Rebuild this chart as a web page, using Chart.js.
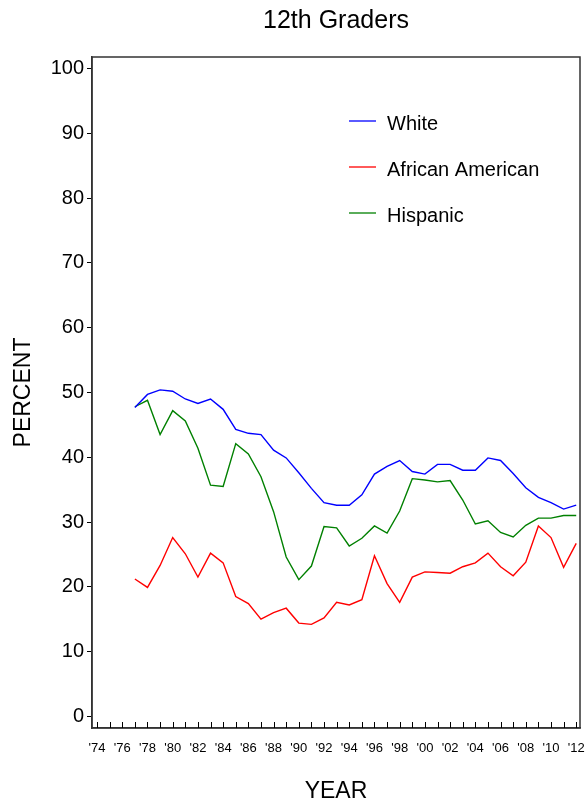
<!DOCTYPE html>
<html>
<head>
<meta charset="utf-8">
<script src="https://cdn.jsdelivr.net/npm/chart.js@4"></script>
<style>
  html, body { margin: 0; padding: 0; background: #fff; }
  #wrap { width: 588px; height: 806px; position: relative; }
</style>
</head>
<body>
<div id="wrap"><canvas id="chart"></canvas></div>
<script>
// data
const years = [1977, 1978, 1979, 1980, 1981, 1982, 1983, 1984, 1985, 1986, 1987, 1988,
  1989, 1990, 1991, 1992, 1993, 1994, 1995, 1996, 1997, 1998, 1999, 2000,
  2001, 2002, 2003, 2004, 2005, 2006, 2007, 2008, 2009, 2010, 2011, 2012];
const white = [47.7, 49.7, 50.4, 50.2, 49.0, 48.3, 49.0, 47.4, 44.3, 43.7, 43.5, 41.1,
  39.9, 37.6, 35.2, 33.0, 32.6, 32.6, 34.2, 37.4, 38.6, 39.5, 37.8, 37.4,
  38.9, 38.9, 38.0, 38.0, 39.9, 39.5, 37.5, 35.3, 33.8, 33.0, 32.0, 32.6];
const africanAmerican = [21.2, 19.9, 23.3, 27.6, 25.1, 21.5, 25.2, 23.7, 18.5, 17.4, 15.0, 16.0,
  16.7, 14.4, 14.2, 15.2, 17.6, 17.2, 18.0, 24.8, 20.5, 17.6, 21.5, 22.3,
  22.2, 22.1, 23.1, 23.7, 25.2, 23.1, 21.7, 23.8, 29.4, 27.6, 23.0, 26.7];
const hispanic = [47.8, 48.8, 43.5, 47.2, 45.6, 41.4, 35.7, 35.5, 42.1, 40.5, 37.0, 31.6,
  24.6, 21.1, 23.2, 29.3, 29.1, 26.3, 27.5, 29.4, 28.3, 31.7, 36.7, 36.5,
  36.2, 36.4, 33.4, 29.7, 30.2, 28.4, 27.7, 29.5, 30.6, 30.6, 31.0, 31.0];
const seriesNames = ['White', 'African American', 'Hispanic'];
const seriesColors = ['#0000ff', '#ff0000', '#008000'];
const chartTitle = '12th Graders';
const yTicks = [0, 10, 20, 30, 40, 50, 60, 70, 80, 90, 100];
const xTicks = [];
for (let y = 1974; y <= 2012; y++) xTicks.push(y);

const FONT = 'Arial, "Liberation Sans", sans-serif';

const toPoints = arr => arr.map((v, i) => ({ x: years[i], y: v }));

// title over the plot, frame, inward year ticks and the in-plot legend
const extras = {
  id: 'extras',
  afterDraw(chart) {
    const { ctx, chartArea: a, scales } = chart;
    ctx.save();
    ctx.fillStyle = '#000';
    ctx.font = '25px ' + FONT;
    ctx.textAlign = 'center';
    ctx.textBaseline = 'alphabetic';
    ctx.fillText(chartTitle, (a.left + a.right) / 2, 28);

    ctx.strokeStyle = '#333';
    ctx.lineWidth = 1.5;
    ctx.strokeRect(a.left, a.top, a.right - a.left, a.bottom - a.top);

    ctx.strokeStyle = '#000';
    ctx.lineWidth = 1;
    ctx.beginPath();
    xTicks.forEach(v => {
      const px = Math.round(scales.x.getPixelForValue(v)) + 0.5;
      ctx.moveTo(px, a.bottom);
      ctx.lineTo(px, a.bottom - 6);
    });
    ctx.stroke();

    ctx.font = '20px ' + FONT;
    ctx.textAlign = 'left';
    seriesNames.forEach((name, i) => {
      const ly = 121 + i * 46;
      ctx.strokeStyle = seriesColors[i];
      ctx.lineWidth = 1.3;
      ctx.beginPath();
      ctx.moveTo(349, ly);
      ctx.lineTo(376, ly);
      ctx.stroke();
      ctx.fillText(name, 387, ly + 8.5);
    });
    ctx.restore();
  }
};

new Chart(document.getElementById('chart'), {
  type: 'line',
  data: {
    datasets: [
      { label: seriesNames[0], data: toPoints(white), borderColor: seriesColors[0] },
      { label: seriesNames[1], data: toPoints(africanAmerican), borderColor: seriesColors[1] },
      { label: seriesNames[2], data: toPoints(hispanic), borderColor: seriesColors[2] }
    ]
  },
  options: {
    responsive: true,
    maintainAspectRatio: false,
    animation: false,
    layout: { padding: { left: 0, right: 8, top: 57, bottom: 0 } },
    elements: {
      line: { borderWidth: 1.4, tension: 0, fill: false },
      point: { radius: 0 }
    },
    plugins: {
      legend: { display: false },
      tooltip: { enabled: false },
      title: { display: false }
    },
    scales: {
      x: {
        type: 'linear',
        min: 1973.6,
        max: 2012.3,
        afterBuildTicks: s => { s.ticks = xTicks.map(v => ({ value: v })); },
        afterFit: s => { s.height = 78; s.paddingLeft = 0; s.paddingRight = 0; },
        grid: { display: false, drawTicks: false },
        border: { display: true, color: '#333', width: 1.5 },
        ticks: {
          autoSkip: false,
          maxRotation: 0,
          padding: 13,
          color: '#000',
          font: { family: FONT, size: 13 },
          callback: v => (v % 2 === 0 ? "'" + String(v).slice(2) : '')
        },
        title: {
          display: true,
          text: 'YEAR',
          color: '#000',
          font: { family: FONT, size: 23 },
          padding: { top: 0, bottom: 1 }
        }
      },
      y: {
        min: -1.8,
        max: 101.8,
        afterBuildTicks: s => { s.ticks = yTicks.map(v => ({ value: v })); },
        afterFit: s => { s.width = 92; },
        grid: { drawOnChartArea: false, drawTicks: true, tickLength: 5, color: '#000' },
        border: { display: true, color: '#333', width: 1.5 },
        ticks: {
          padding: 3,
          color: '#000',
          font: { family: FONT, size: 20 }
        },
        title: {
          display: true,
          text: 'PERCENT',
          color: '#000',
          font: { family: FONT, size: 23 },
          padding: { top: 10, bottom: 0 }
        }
      }
    }
  },
  plugins: [extras]
});
</script>
</body>
</html>
